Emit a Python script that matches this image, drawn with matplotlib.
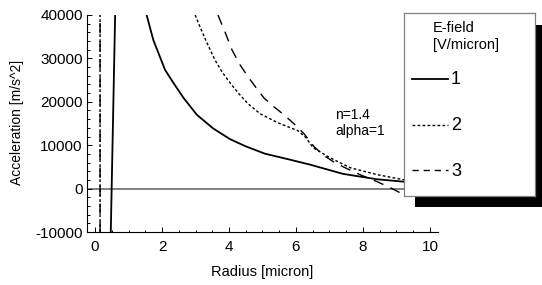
import numpy as np
import matplotlib
matplotlib.use('Agg')
import matplotlib.pyplot as plt
from matplotlib.patches import Rectangle
from matplotlib.ticker import MultipleLocator

plt.rcParams['font.family'] = ['Liberation Sans', 'DejaVu Sans']
plt.rcParams['lines.scale_dashes'] = False
plt.rcParams['axes.unicode_minus'] = False

nan = np.nan

# E-field = 1 V/micron (solid)
x1 = [0.47, 0.535, 0.60, nan,
      1.54, 1.74, 2.09, 2.34, 2.64, 3.04, 3.52, 4.03, 4.48, 5.07, 5.76, 6.42, 7.40, 8.42, 9.19, 10.0]
y1 = [-10000, 15000, 40000, nan,
      40000, 34250, 27360, 24370, 20920, 17010, 13900, 11400, 9800, 8050, 6780, 5520, 3400, 2150, 1610, 1150]

# E-field = 2 V/micron (dotted)
x2 = [0.15, 0.15, nan,
      2.99, 3.16, 3.37, 3.58, 3.79, 4.03, 4.27, 4.57, 4.93, 5.46, 6.06, 6.30, 6.51, 7.01, 7.61, 8.42, 9.19, 10.0]
y2 = [-10000, 40000, nan,
      40000, 36780, 33100, 29660, 26900, 24370, 22070, 19540, 17240, 15170, 13330, 11720, 9430, 7130, 4830, 3220, 2070, 1380]

# E-field = 3 V/micron (dashed)
x3 = [0.15, 0.15, nan,
      3.67, 3.88, 4.09, 4.33, 4.57, 4.81, 5.04, 5.34, 5.64, 5.94, 6.24, 6.54, 6.84, 7.16, 7.46, 7.91, 8.42, 8.81, 9.10, 10.0]
y3 = [-10000, 40000, nan,
      40000, 36090, 31950, 28500, 25750, 23220, 20920, 18850, 17010, 14940, 12640, 9660, 7590, 5980, 4830, 3220, 1610, 230, -920, -2530]

labels = ['1', '2', '3']
dashes = [None, (2.0, 1.6), (7.5, 5.5)]
legend_dashes = [None, (2.0, 1.6), (4.5, 3.5)]

W, H = 542, 285
fig = plt.figure(figsize=(W / 100, H / 100), dpi=100)

# main axes, pixel box: x 87..438, y 15..232
ax = fig.add_axes([87 / W, 1 - 232 / H, 351 / W, 217 / H])
ax.set_xlim(-0.24, 10.24)
ax.set_ylim(-10000, 40000)

ax.axhline(0, color='#808080', lw=1.4, zorder=1)
for xs, ys, d in zip([x1, x2, x3], [y1, y2, y3], dashes):
    line, = ax.plot(xs, ys, color='black', lw=1.3 if d is None else 1.0, zorder=2)
    if d is not None:
        line.set_dashes(d)

for s in ['top', 'right']:
    ax.spines[s].set_visible(False)
for s in ['left', 'bottom']:
    ax.spines[s].set_linewidth(0.8)

ax.xaxis.set_major_locator(MultipleLocator(2))
ax.xaxis.set_minor_locator(MultipleLocator(0.5))
ax.yaxis.set_major_locator(MultipleLocator(10000))
ax.yaxis.set_minor_locator(MultipleLocator(2000))
ax.tick_params(which='both', direction='in', width=0.7, labelsize=11)
ax.tick_params(which='major', length=3.5)
ax.tick_params(which='minor', length=1.8)
ax.tick_params(axis='x', pad=6)
ax.tick_params(axis='y', pad=3)

fig.text(17 / W, 1 - 122 / H, 'Acceleration [m/s^2]', rotation=90,
         ha='center', va='center', fontsize=10)
fig.text(262 / W, 1 - 272 / H, 'Radius [micron]', ha='center', va='center', fontsize=10.5)

fig.text(335 / W, 1 - 115 / H, 'n=1.4', ha='left', va='center', fontsize=10)
fig.text(335 / W, 1 - 131 / H, 'alpha=1', ha='left', va='center', fontsize=10)

# legend shadow and box
fig.add_artist(Rectangle((415 / W, 1 - 207 / H), 127 / W, 182 / H,
                         transform=fig.transFigure, facecolor='black',
                         edgecolor='none', zorder=3))
lg = fig.add_axes([404 / W, 1 - 196 / H, 131 / W, 183 / H], zorder=4)
lg.set_xlim(404, 535)
lg.set_ylim(196, 13)
lg.set_xticks([])
lg.set_yticks([])
for s in lg.spines.values():
    s.set_color('#808080')
    s.set_linewidth(0.9)
lg.text(433, 28, 'E-field', ha='left', va='center', fontsize=10.5)
lg.text(433, 45, '[V/micron]', ha='left', va='center', fontsize=10.5)
ys_leg = [79, 125, 170]
for lab, d, yl in zip(labels, legend_dashes, ys_leg):
    line, = lg.plot([412, 448], [yl, yl], color='black', lw=1.3 if d is None else 1.0)
    if d is not None:
        line.set_dashes(d)
    lg.text(451, yl + 1, lab, ha='left', va='center', fontsize=13)

fig.savefig('out.png', dpi=100)
